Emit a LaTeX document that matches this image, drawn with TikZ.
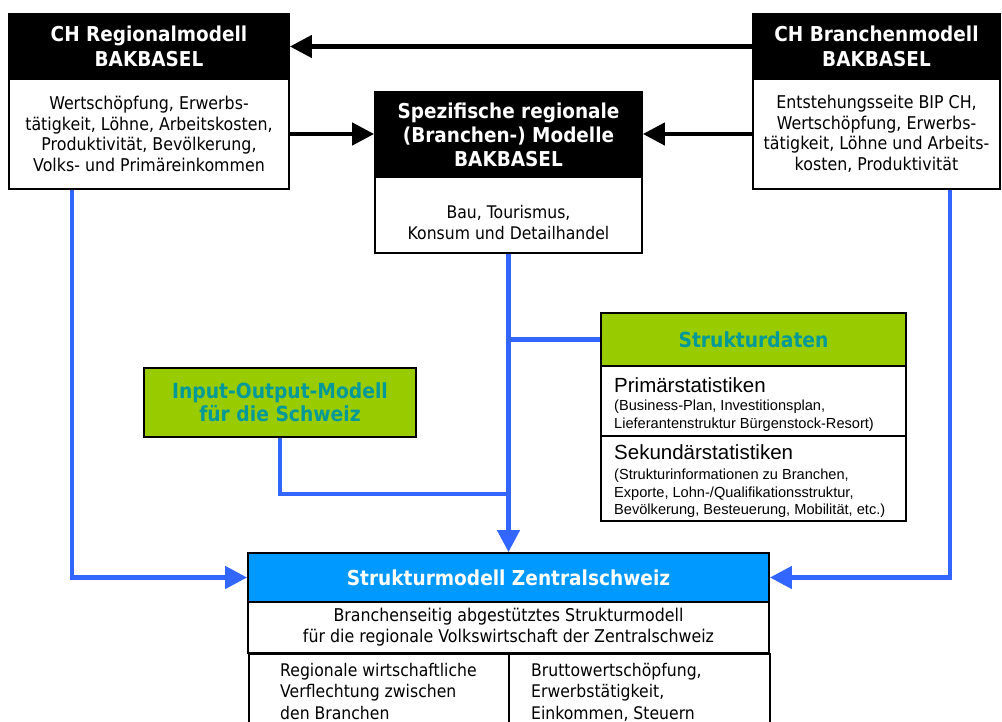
\documentclass[tikz,border=0pt]{standalone}
\usepackage{fontspec}
\setmainfont{DejaVu Sans}[FakeStretch=0.9]
\newfontfamily\arialf{Liberation Sans}
\usetikzlibrary{arrows.meta}
\definecolor{lgreen}{HTML}{99CC00}
\definecolor{tealtxt}{HTML}{009999}
\definecolor{hblue}{HTML}{0099FF}
\definecolor{lblue}{HTML}{3366FF}
\begin{document}
\begin{tikzpicture}[x=1pt,y=-1pt,
  box/.style={draw=black, line width=1.8pt, inner sep=0pt, align=center},
  hdr/.style={box, fill=black, text=white, font=\fontsize{20.5}{24.5}\selectfont\bfseries},
  body/.style={box, fill=white, font=\fontsize{17.6}{20.5}\selectfont},
  greenhdr/.style={box, fill=lgreen, text=tealtxt, font=\fontsize{20.8}{23}\selectfont\bfseries},
  txt/.style={inner sep=0pt, font=\fontsize{17.4}{21.5}\selectfont},
  bigA/.style={inner sep=0pt, font=\fontsize{20.5}{24}\selectfont\arialf},
  smallA/.style={inner sep=0pt, align=left, font=\fontsize{14.6}{17.5}\selectfont\arialf},
  bconn/.style={draw=black, line width=4.5pt, -{Triangle[length=22pt,width=22pt]}},
  blline/.style={draw=lblue, line width=4.5pt},
  blconn/.style={blline, -{Triangle[length=22pt,width=22pt]}}
]
\useasboundingbox (0,0) rectangle (1002,722);

% left model
\node[hdr, minimum width=280, minimum height=65] (lh) at (149,46.5) {CH Regionalmodell\\BAKBASEL};
\node[body, minimum width=280, minimum height=110] (lb) at (149,134) {Wertschöpfung, Erwerbs-\\tätigkeit, Löhne, Arbeitskosten,\\Produktivität, Bevölkerung,\\Volks- und Primäreinkommen};

% center model
\node[hdr, minimum width=267, minimum height=85, font=\fontsize{20.5}{24}\selectfont\bfseries] (ch) at (508.5,134.5) {Spezifische regionale\\(Branchen-) Modelle\\BAKBASEL};
\node[body, minimum width=267, minimum height=76] (cb) at (508.5,215) {};
\node[txt, align=center] (cbt) at (508.5,222.5) {Bau, Tourismus,\\Konsum und Detailhandel};

% right model
\node[hdr, minimum width=247, minimum height=65] (rh) at (876.5,46.5) {CH Branchenmodell\\BAKBASEL};
\node[body, minimum width=247, minimum height=110] (rb) at (876.5,134) {Entstehungsseite BIP CH,\\Wertschöpfung, Erwerbs-\\tätigkeit, Löhne und Arbeits-\\kosten, Produktivität};

% input-output
\node[greenhdr, minimum width=272, minimum height=69] (io) at (280,402.5) {Input-Output-Modell\\für die Schweiz};

% Strukturdaten
\node[greenhdr, minimum width=305, minimum height=53] (sh) at (753.5,339.5) {Strukturdaten};
\node[box, fill=white, minimum width=305, minimum height=70] (sp) at (753.5,401) {};
\node[box, fill=white, minimum width=305, minimum height=85] (ss) at (753.5,478.5) {};
\node[bigA, anchor=base west] (spt) at (614,392) {Primärstatistiken};
\node[smallA, anchor=north west] (sps) at (614,400) {(Business-Plan, Investitionsplan,\\Lieferantenstruktur Bürgenstock-Resort)};
\node[bigA, anchor=base west] (sst) at (614,459) {Sekundärstatistiken};
\node[smallA, anchor=north west] (sss) at (614,469) {(Strukturinformationen zu Branchen,\\Exporte, Lohn-/Qualifikationsstruktur,\\Bevölkerung, Besteuerung, Mobilität, etc.)};

% Strukturmodell
\node[box, fill=hblue, text=white, font=\fontsize{20.6}{23}\selectfont\bfseries, minimum width=521, minimum height=49] (mh) at (508.5,577.5) {Strukturmodell Zentralschweiz};
\node[body, minimum width=521, minimum height=51, font=\fontsize{17.6}{21}\selectfont] (mm) at (508.5,627.5) {Branchenseitig abgestütztes Strukturmodell\\für die regionale Volkswirtschaft der Zentralschweiz};
\node[box, fill=white, anchor=north west, minimum width=260, minimum height=90] (ml) at (248,653) {};
\node[box, fill=white, anchor=north west, minimum width=261, minimum height=90] (mr) at (508,653) {};
\node[txt, anchor=north west, align=left] (mlt) at (280,663) {Regionale wirtschaftliche\\Verflechtung zwischen\\den Branchen};
\node[txt, anchor=north west, align=left] (mrt) at (531,663) {Bruttowertschöpfung,\\Erwerbstätigkeit,\\Einkommen, Steuern};

% black connectors
\draw[bconn] (rh.west) -- (lh.east);
\draw[bconn] (lb.east) -- (lb.east -| ch.west);
\draw[bconn] (rb.west) -- (rb.west -| ch.east);

% blue connectors
\draw[blconn] ([xshift=-77pt]lb.south) |- (mh.west);
\draw[blconn] ([xshift=73.5pt]rb.south) |- (mh.east);
\draw[blconn] (cb.south) -- (mh.north);
\draw[blline] (sh.west) -- (sh.west -| cb.south);
\coordinate (j2) at (508.5,494);
\draw[blline] (io.south) |- (j2);
\end{tikzpicture}
\end{document}
